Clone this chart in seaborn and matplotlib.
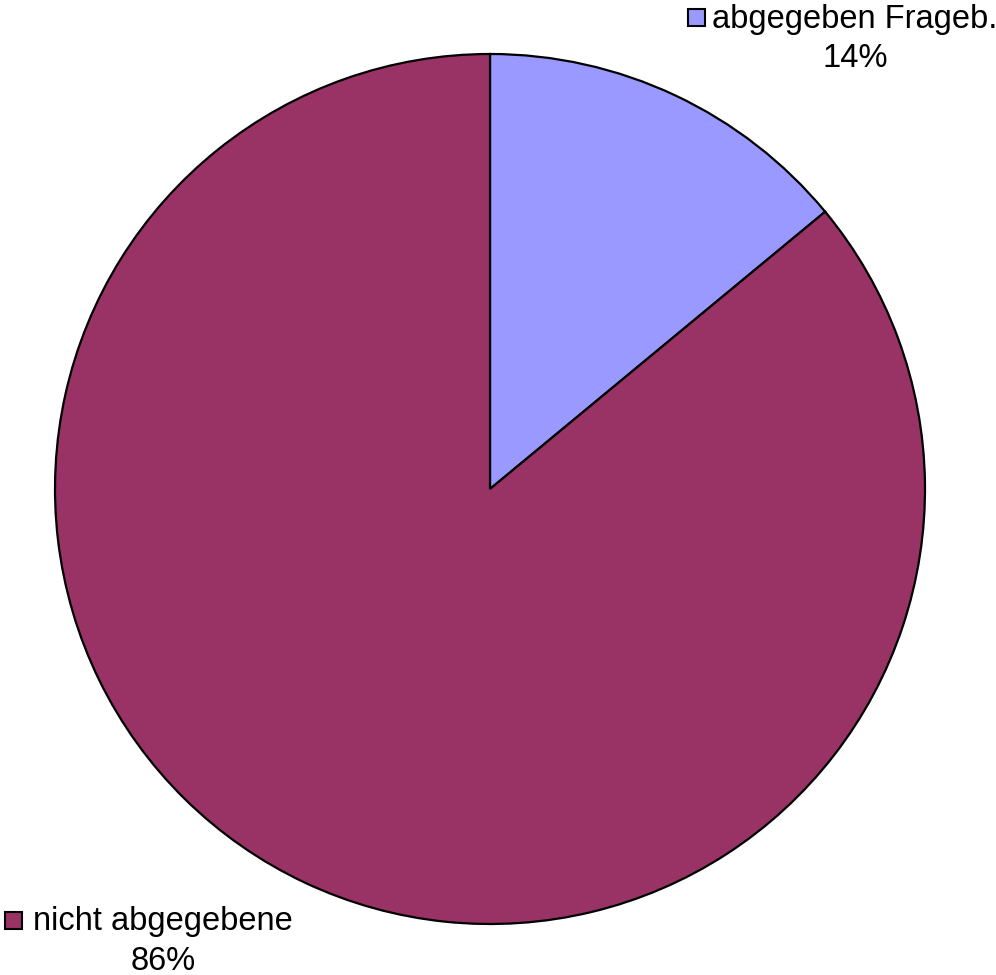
import matplotlib
matplotlib.use("Agg")
import matplotlib.pyplot as plt
from matplotlib.patches import Rectangle
import seaborn as sns

labels = ['abgegeben Frageb.', 'nicht abgegebene']
shares = [14, 86]
colors = ['#9999FF', '#993366']

sns.set_style('white')
plt.rcParams['font.family'] = ['Liberation Sans', 'DejaVu Sans']

W, H = 996, 975
fig = plt.figure(figsize=(W / 100, H / 100), dpi=100)
ax = fig.add_axes([0, 0, 1, 1])

# pie drawn in pixel coords; y axis is flipped, so counterclock=True looks clockwise
ax.pie(shares, colors=colors, startangle=-90, counterclock=True,
       center=(490, 489), radius=435, frame=True,
       wedgeprops=dict(edgecolor='black', linewidth=1.6))
ax.set_xlim(0, W)
ax.set_ylim(H, 0)
ax.set_aspect('equal')
ax.axis('off')

# data labels: legend key square + name + percent
# (text centre x, name baseline, pct baseline, square left, square centre y)
label_pos = [(855, 28, 67, 688, 17.5), (163, 930, 970, 5, 920)]
for name, val, col, (cx, y1, y2, sx, sy) in zip(labels, shares, colors, label_pos):
    ax.add_patch(Rectangle((sx, sy - 8.5), 17, 17, facecolor=col,
                           edgecolor='black', linewidth=1.5, zorder=5))
    ax.text(cx, y1, name, ha='center', va='baseline', fontsize=23.5, color='black')
    ax.text(cx, y2, f'{val}%', ha='center', va='baseline', fontsize=23.5, color='black')

fig.savefig('out.png', dpi=100)
